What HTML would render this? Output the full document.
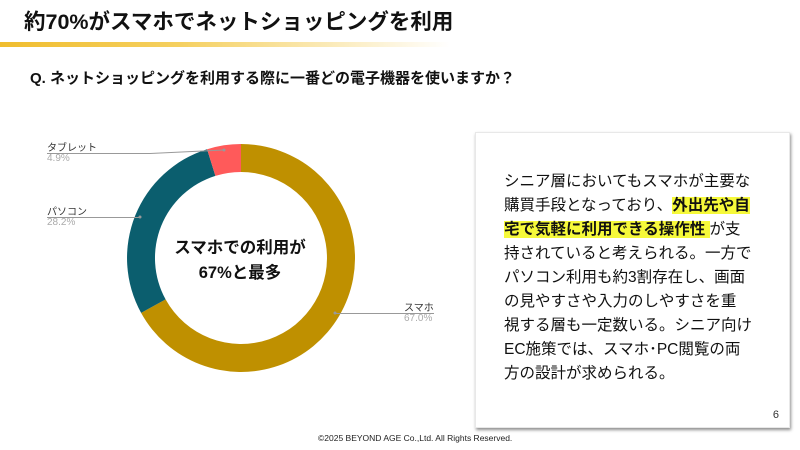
<!DOCTYPE html>
<html><head><meta charset="utf-8"><style>
body{margin:0;width:800px;height:450px;background:#fff;position:relative;overflow:hidden;font-family:"Liberation Sans","Noto Sans CJK JP",sans-serif;}
.t{position:absolute;white-space:nowrap;}
.box{position:absolute;left:475px;top:132px;width:315px;height:296px;background:#fff;box-shadow:1px 2px 3px rgba(0,0,0,0.45);border:1px solid #e8e8e8;box-sizing:border-box;}
.body{position:absolute;left:28px;top:37px;font-size:15.5px;line-height:24px;color:#111;white-space:nowrap;}
.hl{background:#f6f93a;font-weight:bold;}
</style></head><body>
<div class="t" style="left:24px;top:5px;font-size:21.5px;font-weight:bold;color:#111;">約70%がスマホでネットショッピングを利用</div>
<div style="position:absolute;left:0;top:42px;width:450px;height:5px;background:linear-gradient(to right,#f0bd2e,#f5d060 40%,rgba(255,245,220,0));"></div>
<div class="t" style="left:30px;top:67px;font-size:15px;font-weight:bold;color:#111;">Q. ネットショッピングを利用する際に一番どの電子機器を使いますか？</div>
<svg style="position:absolute;left:0;top:0" width="800" height="450">
<path d="M241,144 A114,114 0 1 1 141.1,312.9 L165.6,299.4 A86,86 0 1 0 241,172 Z" fill="#bf9000"/>
<path d="M141.1,312.9 A114,114 0 0 1 207.1,149.2 L215.4,175.9 A86,86 0 0 0 165.6,299.4 Z" fill="#0b5e6e"/>
<path d="M207.1,149.2 A114,114 0 0 1 241,144 L241,172 A86,86 0 0 0 215.4,175.9 Z" fill="#ff5a5a"/>
<g stroke="#999" stroke-width="1" fill="none">
<polyline points="47,153.5 150,153.5 224,150"/>
<line x1="47" y1="217.5" x2="140" y2="217.5"/>
<line x1="335" y1="313.5" x2="434" y2="313.5"/>
</g>
<g fill="#999"><circle cx="224" cy="150" r="1.5"/><circle cx="140" cy="217" r="1.5"/><circle cx="335" cy="313" r="1.5"/></g>
</svg>
<div class="t" style="left:47px;top:139px;font-size:10px;color:#333;">タブレット</div>
<div class="t" style="left:47px;top:153px;font-size:10px;color:#aaa;">4.9%</div>
<div class="t" style="left:47px;top:203px;font-size:10px;color:#333;">パソコン</div>
<div class="t" style="left:47px;top:217px;font-size:10px;color:#aaa;">28.2%</div>
<div class="t" style="left:404px;top:299px;font-size:10px;color:#333;">スマホ</div>
<div class="t" style="left:404px;top:313px;font-size:10px;color:#aaa;">67.0%</div>
<div class="t" style="left:140px;top:236px;width:200px;text-align:center;font-size:16.5px;font-weight:bold;line-height:25px;color:#111;">スマホでの利用が<br>67%と最多</div>
<div class="box"><div class="body">シニア層においてもスマホが主要な<br>購買手段となっており、<span class="hl">外出先や自</span><br><span class="hl">宅で気軽に利用できる操作性 </span> が支<br>持されていると考えられる。一方で<br>パソコン利用も約3割存在し、画面<br>の見やすさや入力のしやすさを重<br>視する層も一定数いる。シニア向け<br>EC施策では、スマホ･PC閲覧の両<br>方の設計が求められる。</div>
<div class="t" style="right:10px;bottom:6px;font-size:11px;color:#333;">6</div></div>
<div class="t" style="left:318px;top:433px;font-size:8.5px;color:#222;">©2025 BEYOND AGE Co.,Ltd. All Rights Reserved.</div>
</body></html>
